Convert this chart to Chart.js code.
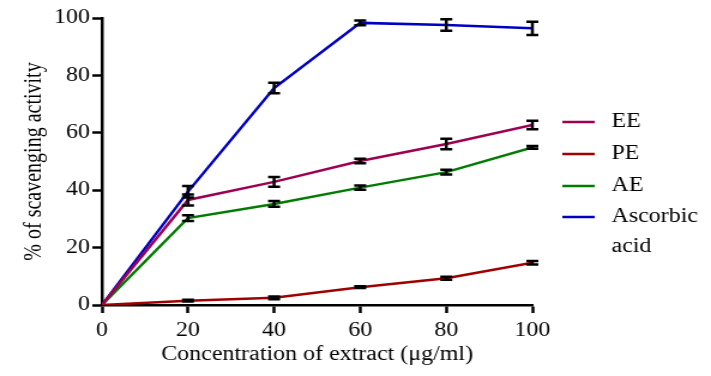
<!DOCTYPE html>
<html lang="en">
  <head>
    <meta charset="UTF-8" />
    <title>Scavenging activity</title>
    <style>
      * {
        margin: 0;
        padding: 0;
        box-sizing: border-box;
      }
      body {
        background: white;
      }
      /* the original figure is stretched sideways, so the canvas is too */
      #myChart {
        display: block;
        width: 711px !important;
        height: 376px !important;
      }
    </style>
  </head>
  <body>
    <canvas id="myChart" width="593" height="376" style="width: 711px; height: 376px"></canvas>

    <script src="https://cdn.jsdelivr.net/npm/chart.js"></script>
    <script>
      const concentrations = [0, 20, 40, 60, 80, 100];
      const seriesNames = ["EE", "PE", "AE", ["Ascorbic", "acid"]];
      const eeValues = [0, 36.6, 42.9, 50.2, 56.1, 62.7];
      const eeErrors = [0, 1.9, 1.7, 0.8, 1.8, 1.5];
      const peValues = [0, 1.5, 2.5, 6.2, 9.3, 14.7];
      const peErrors = [0, 0.3, 0.5, 0.3, 0.5, 0.6];
      const aeValues = [0, 30.3, 35.2, 40.9, 46.3, 54.9];
      const aeErrors = [0, 1.0, 1.0, 0.7, 0.8, 0.5];
      const ascorbicValues = [0, 39.5, 75.6, 98.3, 97.6, 96.4];
      const ascorbicErrors = [0, 2.0, 1.8, 0.8, 2.0, 2.3];
      const colors = ["#9e0052", "#a00000", "#007c00", "#0000c4"];

      const ctx = document.getElementById("myChart");
      const serif = "'Liberation Serif', 'Times New Roman', serif";
      const font = { family: serif, size: 20 };

      function toPoints(values) {
        return values.map((v, i) => ({ x: concentrations[i], y: v }));
      }

      const allValues = [eeValues, peValues, aeValues, ascorbicValues];
      const allErrors = [eeErrors, peErrors, aeErrors, ascorbicErrors];

      const data = {
        datasets: allValues.map((vals, i) => ({
          label: seriesNames[i],
          data: toPoints(vals),
          errors: allErrors[i],
          borderColor: colors[i],
          backgroundColor: colors[i],
          borderWidth: 2.5,
          pointRadius: 0,
          tension: 0,
        })),
      };

      // vertical error bars with caps, on top of the lines
      const errorBars = {
        id: "errorBars",
        afterDatasetsDraw(chart) {
          const {
            ctx,
            scales: { x, y },
          } = chart;
          ctx.save();
          ctx.strokeStyle = "#000";
          ctx.lineWidth = 2.5;
          chart.data.datasets.forEach((ds) => {
            ds.data.forEach((p, i) => {
              const e = ds.errors[i];
              if (!e) return;
              const px = x.getPixelForValue(p.x);
              const top = y.getPixelForValue(p.y + e);
              const bot = y.getPixelForValue(p.y - e);
              ctx.beginPath();
              ctx.moveTo(px, top);
              ctx.lineTo(px, bot);
              ctx.moveTo(px - 5, top);
              ctx.lineTo(px + 5, top);
              ctx.moveTo(px - 5, bot);
              ctx.lineTo(px + 5, bot);
              ctx.stroke();
            });
          });
          ctx.restore();
        },
      };

      // legend to the right: short line + label per series
      const sideLegend = {
        id: "sideLegend",
        afterDraw(chart) {
          const { ctx, chartArea } = chart;
          const rows = [122, 154, 186, 217];
          const x0 = chartArea.right + 25;
          ctx.save();
          ctx.font = "20px " + serif;
          ctx.fillStyle = "#000";
          ctx.textBaseline = "middle";
          chart.data.datasets.forEach((ds, i) => {
            ctx.strokeStyle = ds.borderColor;
            ctx.lineWidth = 2.5;
            ctx.beginPath();
            ctx.moveTo(x0, rows[i]);
            ctx.lineTo(x0 + 27, rows[i]);
            ctx.stroke();
            const lines = Array.isArray(ds.label) ? ds.label : [ds.label];
            lines.forEach((t, j) => ctx.fillText(t, x0 + 41, rows[i] + j * 30));
          });
          ctx.restore();
        },
      };

      const axisStyle = {
        border: { display: true, color: "#000", width: 2.5 },
        grid: {
          drawOnChartArea: false,
          drawTicks: true,
          tickLength: 8,
          tickWidth: 2.5,
          color: "#000",
        },
      };

      const config = {
        type: "line",
        data: data,
        options: {
          responsive: false,
          animation: false,
          devicePixelRatio: 1,
          layout: { padding: { top: 18, right: 149, left: 0, bottom: 0 } },
          plugins: {
            legend: { display: false },
            tooltip: { enabled: false },
          },
          scales: {
            x: {
              type: "linear",
              min: 0,
              max: 100,
              ...axisStyle,
              ticks: { stepSize: 20, color: "#000", font: font, padding: 6 },
              title: {
                display: true,
                text: "Concentration of extract (\u03bcg/ml)",
                color: "#000",
                font: font,
                padding: { top: 0, bottom: 9 },
              },
              afterFit(scale) {
                scale.height = 71;
              },
            },
            y: {
              min: 0,
              max: 100,
              ...axisStyle,
              ticks: { stepSize: 20, color: "#000", font: font, padding: 2 },
              title: {
                display: true,
                text: "% of scavenging activity",
                color: "#000",
                font: font,
                padding: { top: 17, bottom: 0 },
              },
              afterFit(scale) {
                scale.width = 85;
              },
            },
          },
        },
        plugins: [errorBars, sideLegend],
      };

      const myChart = new Chart(ctx, config);
    </script>
  </body>
</html>
